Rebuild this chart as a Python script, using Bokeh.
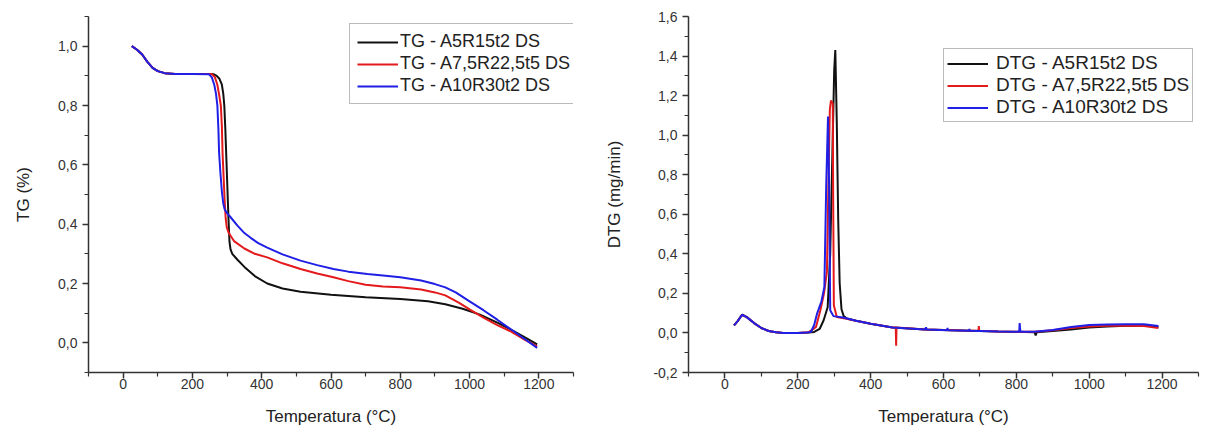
from bokeh.plotting import figure
from bokeh.models import (FixedTicker, CustomJSTickFormatter, Legend, LegendItem, Range1d)
from bokeh.layouts import row
from bokeh.embed import file_html
from bokeh.resources import INLINE

# ---------------- data ----------------
# TG curves (temperature °C, TG fraction)
tg_a5_temp = [25, 40, 55, 70, 85, 100, 120, 150, 200, 250, 262, 270, 278, 285, 289, 292, 295, 298,
              301, 304, 307, 310, 315, 330, 350, 380, 416, 460, 512, 600, 700, 800, 880, 930, 980,
              1030, 1080, 1130, 1170, 1195]
tg_a5 = [1.0, 0.988, 0.972, 0.947, 0.927, 0.916, 0.909, 0.906, 0.906, 0.906, 0.905, 0.9, 0.89,
         0.87, 0.84, 0.80, 0.72, 0.62, 0.52, 0.42, 0.34, 0.315, 0.30, 0.28, 0.256, 0.225, 0.20,
         0.183, 0.172, 0.162, 0.154, 0.148, 0.14, 0.13, 0.115, 0.095, 0.068, 0.038, 0.012, -0.005]

tg_a75_temp = [25, 40, 55, 70, 85, 100, 120, 150, 200, 250, 257, 265, 272, 278, 282, 285, 287, 290,
               293, 296, 299, 305, 320, 350, 380, 416, 460, 512, 560, 607, 650, 700, 750, 800, 860,
               900, 930, 970, 1000, 1040, 1080, 1120, 1160, 1195]
tg_a75 = [1.0, 0.988, 0.972, 0.947, 0.927, 0.916, 0.909, 0.906, 0.906, 0.906, 0.905, 0.895, 0.87,
          0.83, 0.80, 0.73, 0.64, 0.56, 0.48, 0.42, 0.39, 0.37, 0.343, 0.318, 0.30, 0.288, 0.268,
          0.249, 0.234, 0.221, 0.208, 0.196, 0.19, 0.187, 0.18, 0.17, 0.16, 0.135, 0.113, 0.085,
          0.06, 0.038, 0.01, -0.012]

tg_a10_temp = [25, 40, 55, 70, 85, 100, 120, 150, 200, 248, 256, 263, 268, 272, 275, 277, 281, 285,
               289, 293, 300, 309, 330, 350, 368, 390, 416, 460, 512, 560, 607, 650, 705, 750, 800,
               860, 900, 930, 960, 1000, 1040, 1080, 1120, 1160, 1195]
tg_a10 = [1.0, 0.988, 0.972, 0.947, 0.927, 0.916, 0.909, 0.906, 0.906, 0.905, 0.895, 0.87, 0.84,
          0.80, 0.72, 0.64, 0.57, 0.51, 0.47, 0.45, 0.437, 0.425, 0.395, 0.37, 0.354, 0.336,
          0.321, 0.298, 0.277, 0.262, 0.249, 0.24, 0.232, 0.227, 0.221, 0.21, 0.198, 0.187, 0.17,
          0.14, 0.11, 0.078, 0.045, 0.012, -0.017]

# DTG curves (temperature °C, mg/min)
dtg_a5_temp = [25, 35, 47, 60, 80, 100, 120, 140, 160, 200, 230, 245, 260, 271, 282, 289, 295, 300,
               303, 307, 311, 315, 320, 326, 335, 360, 400, 460, 550, 650, 750, 850, 853, 856, 900,
               950, 1000, 1050, 1100, 1150, 1190]
dtg_a5 = [0.038, 0.06, 0.092, 0.08, 0.05, 0.025, 0.01, 0.003, 0.0, 0.0, 0.002, 0.005, 0.02, 0.064,
          0.13, 0.40, 0.91, 1.33, 1.43, 1.07, 0.57, 0.25, 0.12, 0.085, 0.073, 0.062, 0.046, 0.028,
          0.017, 0.012, 0.007, 0.004, -0.012, 0.004, 0.01, 0.018, 0.028, 0.033, 0.036, 0.037, 0.03]

dtg_a75_temp = [25, 35, 47, 60, 80, 100, 120, 140, 160, 200, 230, 244, 250, 262, 272, 280, 284, 288,
                291, 296, 297, 299, 307, 330, 360, 400, 460, 469, 470, 471, 550, 650, 696, 697, 698,
                750, 850, 900, 950, 1000, 1050, 1100, 1150, 1190]
dtg_a75 = [0.038, 0.06, 0.092, 0.08, 0.05, 0.025, 0.01, 0.003, 0.0, 0.0, 0.004, 0.022, 0.03, 0.115,
           0.2, 0.31, 0.74, 1.13, 1.175, 1.16, 0.74, 0.14, 0.081, 0.073, 0.062, 0.046, 0.028, 0.027,
           -0.065, 0.027, 0.017, 0.012, 0.011, 0.035, 0.011, 0.007, 0.006, 0.014, 0.025, 0.033,
           0.036, 0.037, 0.035, 0.025]

dtg_a10_temp = [25, 35, 47, 60, 80, 100, 120, 140, 160, 200, 225, 236, 245, 253, 265, 273, 278, 283,
                286, 289, 298, 324, 360, 400, 460, 550, 552, 554, 610, 611, 612, 670, 671, 672, 750,
                808, 809, 811, 850, 900, 950, 1000, 1050, 1100, 1150, 1190]
dtg_a10 = [0.038, 0.06, 0.092, 0.08, 0.05, 0.025, 0.01, 0.003, 0.0, 0.0, 0.002, 0.005, 0.04, 0.098,
           0.16, 0.233, 0.74, 1.094, 0.74, 0.115, 0.085, 0.078, 0.062, 0.046, 0.028, 0.017, 0.028,
           0.017, 0.014, 0.025, 0.014, 0.011, 0.02, 0.011, 0.007, 0.006, 0.05, 0.006, 0.006, 0.015,
           0.03, 0.04, 0.043, 0.044, 0.044, 0.035]

tg_labels = ["TG - A5R15t2 DS", "TG - A7,5R22,5t5 DS", "TG - A10R30t2 DS"]
dtg_labels = ["DTG - A5R15t2 DS", "DTG - A7,5R22,5t5 DS", "DTG - A10R30t2 DS"]
series_colors = ["#111111", "#e3191c", "#1f1fe6"]

x_major = [0, 200, 400, 600, 800, 1000, 1200]
x_minor = [-100, 100, 300, 500, 700, 900, 1100, 1300]
tg_major = [0.0, 0.2, 0.4, 0.6, 0.8, 1.0]
tg_minor = [-0.1, 0.1, 0.3, 0.5, 0.7, 0.9, 1.1]
dtg_major = [-0.2, 0.0, 0.2, 0.4, 0.6, 0.8, 1.0, 1.2, 1.4, 1.6]
dtg_minor = [-0.1, 0.1, 0.3, 0.5, 0.7, 0.9, 1.1, 1.3, 1.5]

FONT = "Liberation Sans"


def style(p, ylabel, ymaj, ymin):
    p.outline_line_color = None
    p.xgrid.visible = False
    p.ygrid.visible = False
    p.background_fill_color = "white"
    p.border_fill_color = "white"
    p.xaxis.ticker = FixedTicker(ticks=x_major, minor_ticks=x_minor)
    p.yaxis.ticker = FixedTicker(ticks=ymaj, minor_ticks=ymin)
    p.yaxis.formatter = CustomJSTickFormatter(code="return tick.toFixed(1).replace('.', ',');")
    p.xaxis.axis_label = "Temperatura (°C)"
    p.yaxis.axis_label = ylabel
    for ax in (p.xaxis, p.yaxis):
        ax.axis_line_color = "#333333"
        ax.axis_line_width = 1.5
        ax.major_tick_line_color = "#333333"
        ax.major_tick_line_width = 1.5
        ax.minor_tick_line_color = "#333333"
        ax.minor_tick_line_width = 1.2
        ax.major_tick_in = 0
        ax.major_tick_out = 6
        ax.minor_tick_in = 0
        ax.minor_tick_out = 4
        ax.major_label_text_font = FONT
        ax.major_label_text_font_size = "14px"
        ax.major_label_text_color = "#333333"
        ax.axis_label_text_font = FONT
        ax.axis_label_text_font_size = "17px"
        ax.axis_label_text_font_style = "normal"
        ax.axis_label_text_color = "#222222"
    p.xaxis.major_label_standoff = 0
    p.xaxis.axis_label_standoff = 15
    p.yaxis.major_label_standoff = 5


def make_legend(labels, renderers, loc, size, standoff, padding, spacing, row_h):
    leg = Legend(items=[LegendItem(label=l, renderers=[r]) for l, r in zip(labels, renderers)],
                 location=loc)
    leg.label_text_font = FONT
    leg.label_text_font_size = size
    leg.label_text_color = "#222222"
    leg.glyph_width = 41
    leg.glyph_height = row_h
    leg.label_height = row_h
    leg.label_standoff = standoff
    leg.spacing = spacing
    leg.padding = padding
    leg.margin = 0
    leg.border_line_color = "#777777"
    leg.border_line_width = 1
    leg.background_fill_alpha = 1.0
    return leg


# ---------------- TG figure ----------------
p1 = figure(width=602, height=428, output_backend="svg", toolbar_location=None,
            x_range=Range1d(-100, 1300), y_range=Range1d(-0.1, 1.1),
            min_border_left=88, min_border_right=29, min_border_top=12, min_border_bottom=54)
style(p1, "TG (%)", tg_major, tg_minor)
p1.yaxis.axis_label_standoff = 22

r1 = []
for xs, ys, c in [(tg_a5_temp, tg_a5, series_colors[0]),
                  (tg_a75_temp, tg_a75, series_colors[1]),
                  (tg_a10_temp, tg_a10, series_colors[2])]:
    r1.append(p1.line(xs, ys, line_color=c, line_width=2))

p1.add_layout(make_legend(tg_labels, r1, (261, 268), "18px", 2, 7, 1, 20), "center")

# ---------------- DTG figure ----------------
p2 = figure(width=604, height=428, output_backend="svg", toolbar_location=None,
            x_range=Range1d(-100, 1300), y_range=Range1d(-0.2, 1.6),
            min_border_left=86, min_border_right=8, min_border_top=16, min_border_bottom=56)
style(p2, "DTG (mg/min)", dtg_major, dtg_minor)
p2.yaxis.axis_label_standoff = 26

r2 = []
for xs, ys, c in [(dtg_a5_temp, dtg_a5, series_colors[0]),
                  (dtg_a75_temp, dtg_a75, series_colors[1]),
                  (dtg_a10_temp, dtg_a10, series_colors[2])]:
    r2.append(p2.line(xs, ys, line_color=c, line_width=2))

p2.add_layout(make_legend(dtg_labels, r2, (255, 250), "19px", 8, 3, 0, 19), "center")

layout = row(p1, p2)
open("out.html", "w").write(file_html(layout, INLINE))
